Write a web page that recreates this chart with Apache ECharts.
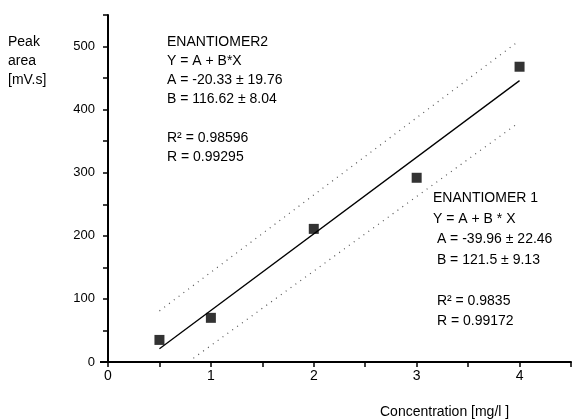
<!DOCTYPE html>
<html>
<head>
<meta charset="utf-8">
<script src="https://cdn.jsdelivr.net/npm/echarts@6/dist/echarts.min.js"></script>
<style>
  html, body { margin: 0; padding: 0; background: #fff; }
  #chart { width: 582px; height: 420px; }
</style>
</head>
<body>
<div id="chart"></div>
<script>
// measured points
const concentration = [0.5, 1, 2, 3, 4];
const peakArea = [35, 70, 211, 292, 468];

// regression line and confidence band
const fitX = [0.5, 4];
const fitY = [21, 446];
const upperX = [0.5, 3.97];
const upperY = [81, 506];
const lowerX = [0.83, 3.98];
const lowerY = [6, 378];

const xTickLabels = [0, 1, 2, 3, 4];
const yTickLabels = [0, 100, 200, 300, 400, 500];

const enantiomer2Text = [
    'ENANTIOMER2',
    'Y = A + B*X',
    'A = -20.33 ± 19.76',
    'B = 116.62 ± 8.04',
    '',
    'R² = 0.98596',
    'R = 0.99295'
];
const enantiomer1Text = [
    'ENANTIOMER 1',
    'Y = A + B * X',
    ' A = -39.96 ± 22.46',
    ' B = 121.5 ± 9.13',
    '',
    ' R² = 0.9835',
    ' R = 0.99172'
];

const font = 'Arial, "Liberation Sans", sans-serif';
const zip = (xs, ys) => xs.map((x, i) => [x, ys[i]]);

const chart = echarts.init(document.getElementById('chart'));

chart.setOption({
    animation: false,
    backgroundColor: '#fff',
    grid: { left: 108, right: 11, top: 15, bottom: 58 },
    xAxis: {
        type: 'value',
        min: 0,
        max: 4.5,
        interval: 0.5,
        splitLine: { show: false },
        axisLine: { lineStyle: { color: '#000', width: 2 } },
        axisTick: { length: 5, lineStyle: { color: '#000', width: 1.5 } },
        axisLabel: {
            color: '#000',
            fontFamily: font,
            fontSize: 14,
            margin: 7,
            formatter: v => xTickLabels.includes(v) ? String(v) : ''
        }
    },
    yAxis: {
        type: 'value',
        min: 0,
        max: 550,
        interval: 50,
        splitLine: { show: false },
        axisLine: { show: true, lineStyle: { color: '#000', width: 2 } },
        axisTick: { show: true, length: 5, lineStyle: { color: '#000', width: 1.5 } },
        axisLabel: {
            color: '#000',
            fontFamily: font,
            fontSize: 13,
            margin: 13,
            formatter: v => yTickLabels.includes(v) ? String(v) : ''
        }
    },
    series: [
        {
            type: 'line',
            data: zip(upperX, upperY),
            symbol: 'none',
            lineStyle: { color: '#555', width: 1.2, type: [1, 5] }
        },
        {
            type: 'line',
            data: zip(lowerX, lowerY),
            symbol: 'none',
            lineStyle: { color: '#555', width: 1.2, type: [1, 5] }
        },
        {
            type: 'line',
            data: zip(fitX, fitY),
            symbol: 'none',
            lineStyle: { color: '#000', width: 1.3 }
        },
        {
            type: 'scatter',
            data: zip(concentration, peakArea),
            symbol: 'rect',
            symbolSize: 10,
            itemStyle: { color: '#000' }
        }
    ],
    graphic: [
        {
            // small overhang of the x axis to the left of the y axis
            type: 'line', shape: { x1: 100, y1: 362, x2: 108, y2: 362 },
            style: { stroke: '#000', lineWidth: 2 }
        },
        {
            type: 'text', left: 8, top: 33,
            style: { text: 'Peak\narea\n[mV.s]', font: '14px ' + font, lineHeight: 19, fill: '#000' }
        },
        {
            type: 'text', left: 167, top: 32,
            style: { text: enantiomer2Text.join('\n'), font: '14px ' + font, lineHeight: 19.3, fill: '#000' }
        },
        {
            type: 'text', left: 433, top: 188,
            style: { text: enantiomer1Text.join('\n'), font: '14px ' + font, lineHeight: 20.5, fill: '#000' }
        },
        {
            type: 'text', left: 380, top: 405,
            style: { text: 'Concentration [mg/l ]', font: '14px ' + font, fill: '#000' }
        }
    ]
});
</script>
</body>
</html>
